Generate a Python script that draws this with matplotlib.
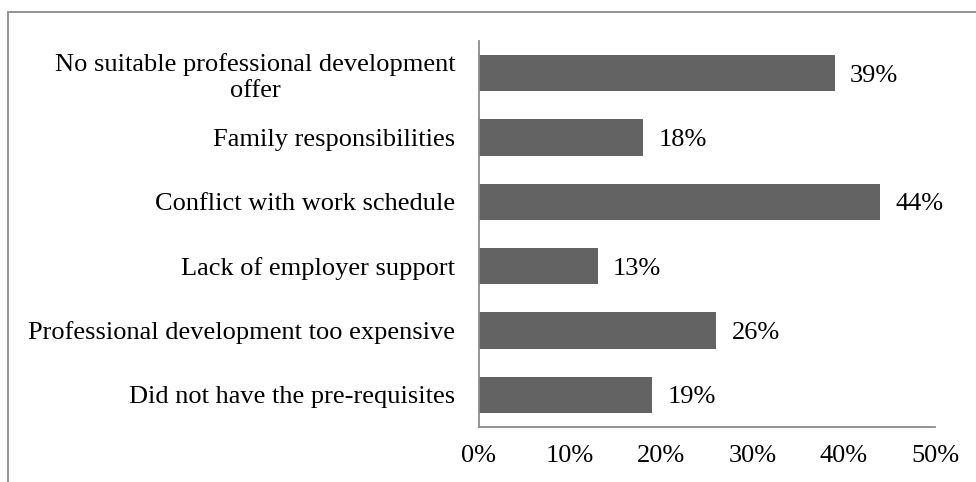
import matplotlib
matplotlib.use("Agg")
import matplotlib.pyplot as plt
from matplotlib.patches import Rectangle

categories = [
    "No suitable professional development\noffer",
    "Family responsibilities",
    "Conflict with work schedule",
    "Lack of employer support",
    "Professional development too expensive",
    "Did not have the pre-requisites",
]
values = [39, 18, 44, 13, 26, 19]
x_ticks = [0, 10, 20, 30, 40, 50]
x_tick_labels = ["0%", "10%", "20%", "30%", "40%", "50%"]

plt.rcParams["font.family"] = ["Liberation Serif", "DejaVu Serif"]
FS = 19
BAR = "#636363"
AXIS = "#8c8c8c"

fig = plt.figure(figsize=(9.76, 4.82), dpi=100)
ax = fig.add_axes([479 / 976, 1 - 427 / 482, (935 - 479) / 976, (427 - 41) / 482])

ypos = list(range(len(categories)))[::-1]
bars = ax.barh(ypos, values, height=0.56, color=BAR, edgecolor="none")

for b, v in zip(bars, values):
    ax.text(b.get_width() + 1.7, b.get_y() + b.get_height() / 2, f"{v}%",
            va="center_baseline", ha="left", fontsize=FS, color="black")

ax.set_xlim(0, 50)
ax.set_ylim(-0.5, len(categories) - 0.5)
ax.set_xticks(x_ticks)
ax.set_xticklabels(x_tick_labels, fontsize=FS)
ax.set_yticks(ypos)
ax.set_yticklabels(categories, fontsize=FS, multialignment="center")
for lbl in ax.get_yticklabels():
    lbl.set_verticalalignment("center_baseline")
ax.tick_params(axis="both", length=0)
ax.tick_params(axis="x", pad=13)
ax.tick_params(axis="y", pad=17)

for side in ("top", "right"):
    ax.spines[side].set_visible(False)
for side in ("left", "bottom"):
    ax.spines[side].set_color(AXIS)
    ax.spines[side].set_linewidth(1.3)

# outer chart frame
fig.patches.append(Rectangle((8 / 976, -0.05), 1.2, 1 - 12 / 482 + 0.05,
                             transform=fig.transFigure, fill=False,
                             edgecolor=AXIS, linewidth=1.3))

fig.savefig("out.png", dpi=100)
